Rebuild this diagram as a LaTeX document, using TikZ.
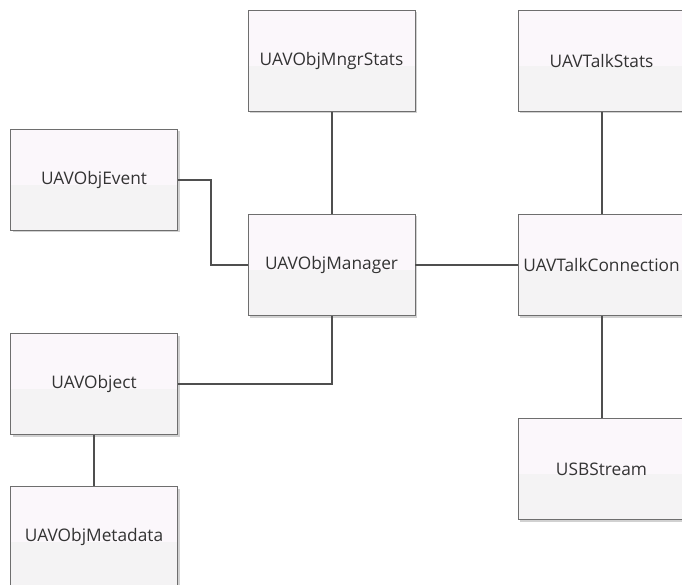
\documentclass[tikz,border=0pt]{standalone}
\usepackage{fontspec}
\setmainfont{Open Sans}
\usepackage{tikz}
\usetikzlibrary{shadows}
\definecolor{bordo}{HTML}{6E6E6E}
\definecolor{linea}{HTML}{4F4F4F}
\definecolor{sopra}{HTML}{FBF7FB}
\definecolor{sotto}{HTML}{F4F3F4}
\tikzset{
  % Stile per le classi (rettangoli sfumati)
  classe/.style={
    draw=bordo,
    line width=0.9pt,
    minimum width=167pt,
    minimum height=101pt,
    font=\fontsize{17.3}{20}\selectfont,
    text=black!80,
    drop shadow={shadow xshift=2pt, shadow yshift=-2pt, fill=black!18, opacity=1},
    path picture={
      \fill[sopra] (path picture bounding box.north west) rectangle ([yshift=-5pt]path picture bounding box.east);
      \fill[sotto] ([yshift=-5pt]path picture bounding box.west) rectangle (path picture bounding box.south east);
    }
  },
  % Stile per i collegamenti
  legame/.style={draw=linea, line width=2pt}
}

\begin{document}
\begin{tikzpicture}[x=1pt, y=-1pt]
  \useasboundingbox (0,0) rectangle (682,585);
  \clip (0,0) rectangle (682,585);

  \node[classe] (stats) at (331.5,61) {UAVObjMngrStats};
  \node[classe] (talkstats) at (601.5,61) {UAVTalkStats};
  \node[classe] (event) at (94,180) {UAVObjEvent};
  \node[classe] (manager) at (331.5,265) {UAVObjManager};
  \node[classe] (conn) at (601.5,265) {UAVTalkConnection};
  \node[classe] (object) at (94,384) {UAVObject};
  \node[classe] (meta) at (94,537) {UAVObjMetadata};
  \node[classe] (usb) at (601.5,469) {USBStream};

  % Collegamenti
  \draw[legame] (stats) -- (manager);
  \draw[legame] (event.east) -- ++(33,0) |- (manager.west);
  \draw[legame] (object.east) -| (manager.south);
  \draw[legame] (manager) -- (conn);
  \draw[legame] (talkstats) -- (conn);
  \draw[legame] (conn) -- (usb);
  \draw[legame] (object) -- (meta);
\end{tikzpicture}
\end{document}
